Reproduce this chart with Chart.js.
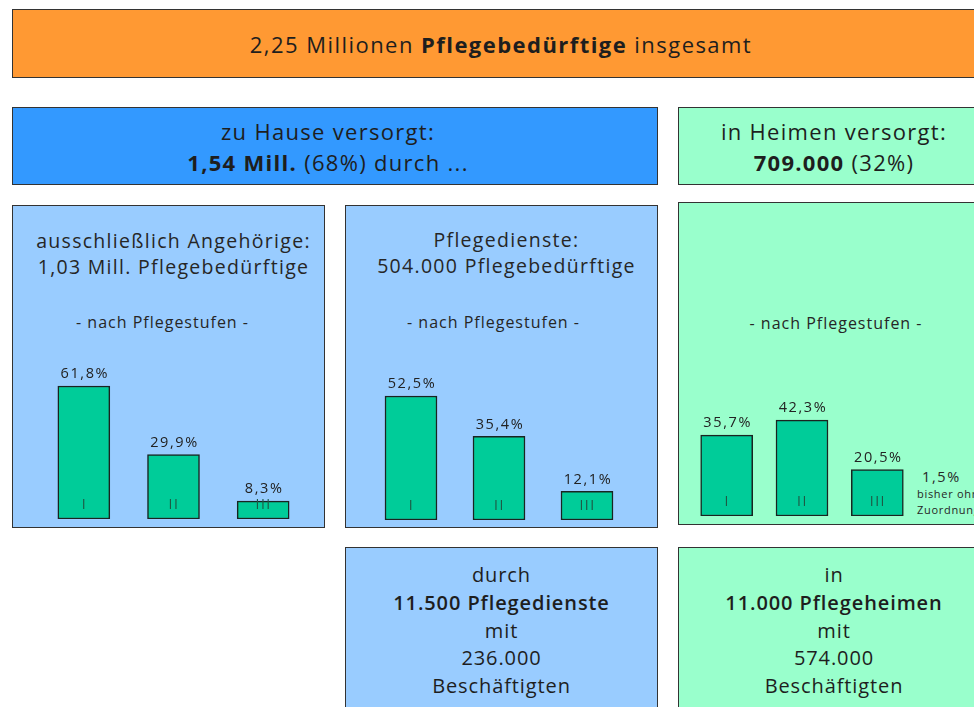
<!DOCTYPE html>
<html lang="de">
<head>
<meta charset="utf-8">
<title>Pflegebedürftige</title>
<script src="https://cdn.jsdelivr.net/npm/chart.js@4.4.1/dist/chart.umd.min.js"></script>
<style>
  html, body { margin: 0; padding: 0; background: #fff; }
  body {
    width: 974px; height: 707px; overflow: hidden; position: relative;
    font-family: "Open Sans", sans-serif; color: #1e1e1e;
  }
  .box { position: absolute; box-sizing: border-box; border: 1px solid #333; }
  .orange { background: #ff9933; }
  .blue { background: #3399ff; }
  .lblue { background: #99ccff; }
  .green { background: #99ffcc; }
  .txt { position: absolute; text-align: center; white-space: nowrap; }
  .big { font-size: 22px; line-height: 31px; letter-spacing: 1.3px; }
  .head { font-size: 22px; line-height: 30px; letter-spacing: 1.45px; }
  .ttl { font-size: 19.5px; line-height: 26px; letter-spacing: 1.3px; color: #262626; }
  .sub { font-size: 16px; line-height: 20px; letter-spacing: 1px; color: #262626; }
  .foot { font-size: 20px; line-height: 27.75px; letter-spacing: 0.9px; }
  .note { position: absolute; white-space: nowrap; color: #262626; }
  canvas { position: absolute; }
  b { font-weight: 700; }
  .semi { font-weight: 600; }
</style>
</head>
<body>

<div class="box orange" style="left:12px; top:9px; width:978px; height:69px;"></div>
<div class="txt head" style="left:12px; width:978px; top:29px;">2,25 Millionen <b>Pflegebedürftige</b> insgesamt</div>

<div class="box blue" style="left:12px; top:107px; width:646px; height:78px;"></div>
<div class="txt big" style="left:12px; width:632px; top:116px;">zu Hause versorgt:<br><b>1,54 Mill.</b> (68%) durch ...</div>

<div class="box green" style="left:678px; top:107px; width:312px; height:78px;"></div>
<div class="txt big" style="left:678px; width:312px; top:116px;">in Heimen versorgt:<br><b>709.000</b> (32%)</div>

<div class="box lblue" style="left:12px; top:205px; width:313px; height:323px;"></div>
<div class="txt ttl" style="left:22px; width:303px; top:228px;">ausschließlich Angehörige:<br>1,03 Mill. Pflegebedürftige</div>
<div class="txt sub" style="left:6px; width:313px; top:312px;">- nach Pflegestufen -</div>

<div class="box lblue" style="left:345px; top:205px; width:313px; height:323px;"></div>
<div class="txt ttl" style="left:355px; width:303px; top:227px;">Pflegedienste:<br>504.000 Pflegebedürftige</div>
<div class="txt sub" style="left:337px; width:313px; top:312px;">- nach Pflegestufen -</div>

<div class="box green" style="left:678px; top:202px; width:312px; height:323px;"></div>
<div class="txt sub" style="left:680px; width:312px; top:313px;">- nach Pflegestufen -</div>

<div class="box lblue" style="left:345px; top:547px; width:313px; height:200px;"></div>
<div class="txt foot" style="left:345px; width:313px; top:561px;">durch<br><span class="semi">11.500 Pflegedienste</span><br>mit<br>236.000<br>Beschäftigten</div>

<div class="box green" style="left:678px; top:547px; width:312px; height:200px;"></div>
<div class="txt foot" style="left:678px; width:312px; top:561px;">in<br><span class="semi">11.000 Pflegeheimen</span><br>mit<br>574.000<br>Beschäftigten</div>

<canvas id="chartAngehoerige" width="269" height="170" style="left:39px; top:349px;"></canvas>
<canvas id="chartDienste" width="264" height="170" style="left:367px; top:350px;"></canvas>
<canvas id="chartHeime" width="226" height="170" style="left:689px; top:346px;"></canvas>

<div id="ohneZuordnung" class="note" style="left:922px; top:467px; font-size:14.5px; line-height:20px; letter-spacing:1.6px;"></div>
<div class="note" style="left:917px; top:486px; font-size:11px; line-height:15.5px; letter-spacing:0.7px;">bisher ohne<br>Zuordnung</div>

<script>
// Pflegestufen und Anteile (%)
const stufen = ['I', 'II', 'III'];
const angehoerigeAnteile = [61.8, 29.9, 8.3];
const diensteAnteile = [52.5, 35.4, 12.1];
const heimeAnteile = [35.7, 42.3, 20.5];
const heimeOhneZuordnung = 1.5;

const fmtPct = v => v.toFixed(1).replace('.', ',') + '%';

// Prozentwert über dem Balken, Stufe unten im Balken
const barLabels = {
  id: 'barLabels',
  afterDatasetsDraw(chart) {
    const { ctx } = chart;
    const meta = chart.getDatasetMeta(0);
    const values = chart.data.datasets[0].data;
    ctx.save();
    ctx.textAlign = 'center';
    ctx.textBaseline = 'middle';
    meta.data.forEach((bar, i) => {
      ctx.letterSpacing = '1.6px';
      ctx.font = '14.5px "Open Sans"';
      ctx.fillStyle = '#222';
      ctx.fillText(fmtPct(values[i]), bar.x + 1, bar.y - 12);
      ctx.letterSpacing = '1.5px';
      ctx.font = '14px "Open Sans"';
      ctx.fillStyle = '#1d5a45';
      ctx.fillText(chart.data.labels[i], bar.x + 0.5, bar.base - 14);
    });
    ctx.restore();
  }
};

function stufenChart(id, values, yMax) {
  const ctx = document.getElementById(id).getContext('2d');
  return new Chart(ctx, {
    type: 'bar',
    data: {
      labels: stufen,
      datasets: [{
        data: values,
        backgroundColor: '#00cc99',
        borderColor: '#1a2420',
        borderWidth: 1.5,
        borderSkipped: false,
        barThickness: 52
      }]
    },
    options: {
      responsive: false,
      animation: false,
      events: [],
      layout: { padding: 0 },
      plugins: { legend: { display: false }, tooltip: { enabled: false } },
      scales: {
        x: { display: false, offset: true },
        y: { display: false, min: 0, max: yMax }
      }
    },
    plugins: [barLabels]
  });
}

stufenChart('chartAngehoerige', angehoerigeAnteile, 79);
stufenChart('chartDienste', diensteAnteile, 72);
stufenChart('chartHeime', heimeAnteile, 75);

document.getElementById('ohneZuordnung').textContent = fmtPct(heimeOhneZuordnung);
</script>
</body>
</html>
